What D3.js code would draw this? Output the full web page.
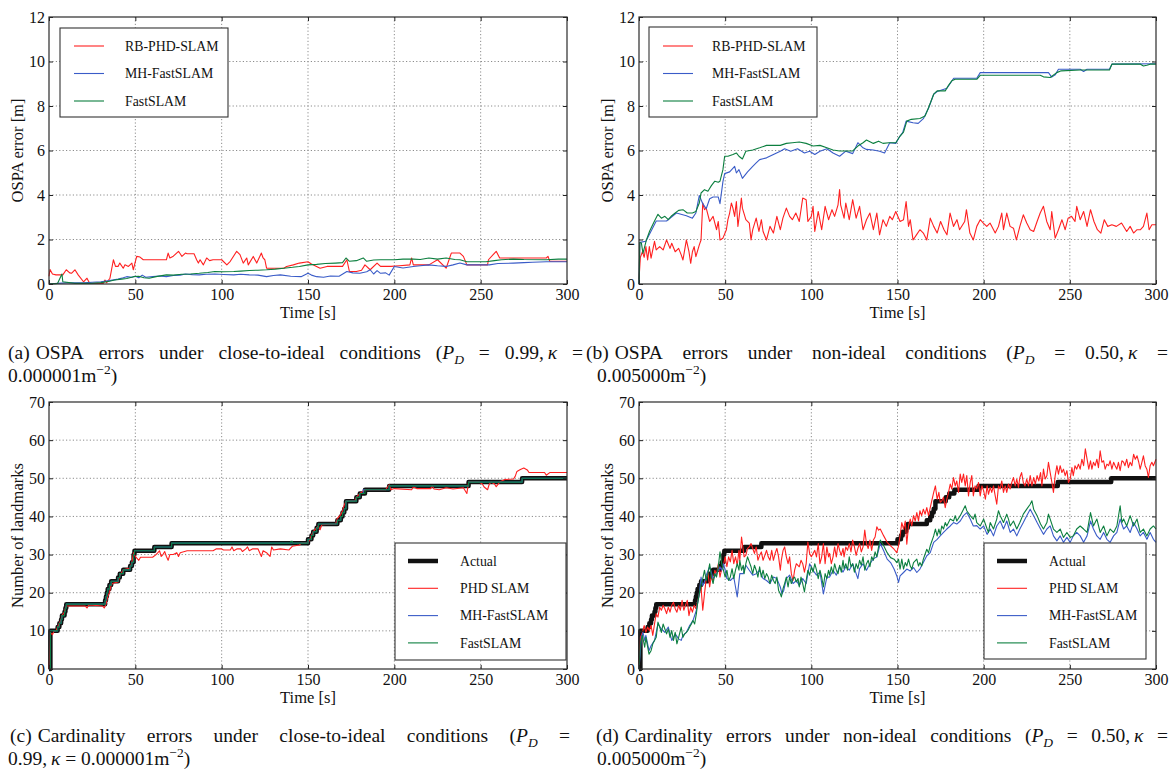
<!DOCTYPE html>
<html>
<head>
<meta charset="utf-8">
<script src="https://cdn.jsdelivr.net/npm/d3@7"></script>
<style>
  body { margin: 0; background: #fff; overflow: hidden; }
  svg { display: block; font-family: 'Liberation Serif', 'DejaVu Serif', serif; }
  .axis line { stroke: #222; }
  .axis-label { font-size: 16.5px; fill: #111; }
  .grid line { stroke: #8c8c8c; stroke-width: 1; stroke-dasharray: 1.2,2.2; }
  .legend text { font-size: 13.8px; fill: #111; }
  .caption { font-size: 19.5px; fill: #111; }
</style>
</head>
<body>
<svg width="1176" height="771"></svg>
<script>
(function (d3) {
  'use strict';

  // ---- ticks / categories ----
  const timeTicks = [0, 50, 100, 150, 200, 250, 300];
  const ospaTicks = [0, 2, 4, 6, 8, 10, 12];
  const countTicks = [0, 10, 20, 30, 40, 50, 60, 70];
  const ospaNames = ['RB-PHD-SLAM', 'MH-FastSLAM', 'FastSLAM'];
  const countNames = ['Actual', 'PHD SLAM', 'MH-FastSLAM', 'FastSLAM'];

  // ---- (a) OSPA, close-to-ideal  [time s, error m] ----
  const phdOspaIdeal = [[0,0.35],[0.6,0.65],[2,0.45],[4,0.41],[8,0.41],[10,0.64],[12,0.5],[13,0.48],[15,0.64],[17,0.4],[20,0.1],[22,0.26],[23.5,0.03],[31.5,0.03],[32.4,0.18],[33.4,0.06],[35.3,0.26],[37.3,1.09],[38.5,0.79],[40,0.79],[41,0.94],[43,0.71],[44,0.86],[46,0.79],[48,0.94],[48.8,0.64],[50.8,1.24],[52.7,1.21],[54.6,1.09],[68,1.09],[69,1.39],[70,1.17],[72,1.25],[75,1.47],[77,1.24],[79,1.39],[80,1.36],[84,1.36],[85.5,1.09],[86.5,0.94],[87.5,1.09],[89.4,0.86],[91.3,1.17],[93,1.05],[95,1.09],[100,1.09],[103,0.86],[105,1.02],[108.7,1.47],[110.6,1.32],[112.5,0.94],[114.5,1.17],[115.4,0.86],[118.3,1.24],[120.3,0.94],[123,1.39],[124,1.17],[125,1.09],[126,0.71],[136,0.71],[137.6,0.79],[141.5,0.86],[145,0.94],[150,1.0],[152,0.9],[157,0.71],[161,0.79],[170,0.79],[172.5,1.09],[174,0.56],[178,0.56],[181,0.62],[183,0.86],[186,0.64],[190,0.94],[192,0.79],[198,0.79],[203,0.82],[209,0.86],[210,1.17],[211,0.86],[220,0.86],[225,1.09],[230,0.71],[233,1.39],[238,1.39],[240,1.24],[242,0.86],[254,0.86],[254.5,1.09],[259,1.47],[261,1.17],[288,1.17],[289,1.24],[290,1.02],[300,1.02]];
  const mhOspaIdeal = [[0,0],[5,0.03],[10,0.05],[20,0.05],[25,0.08],[30,0.1],[35,0.15],[40,0.22],[43,0.28],[45,0.33],[48,0.3],[50,0.35],[52,0.28],[54,0.4],[56,0.3],[60,0.33],[64,0.36],[68,0.33],[72,0.38],[76,0.4],[79,0.45],[83,0.42],[87,0.41],[91,0.44],[96,0.45],[101,0.43],[107,0.41],[111,0.44],[116,0.41],[121,0.4],[126,0.33],[130,0.38],[134,0.41],[140,0.35],[146,0.33],[150,0.48],[152,0.4],[155,0.33],[159,0.3],[163,0.36],[168,0.35],[172.5,0.56],[176,0.5],[180,0.48],[184,0.55],[186,0.64],[188,0.45],[190,0.6],[192,0.48],[195,0.5],[197,0.4],[200,0.79],[205,0.72],[211,0.79],[215,0.82],[220,0.86],[225,0.82],[230,0.79],[234,0.86],[238,0.94],[242,0.86],[249,0.86],[255,0.86],[260,0.92],[269,0.94],[275,0.96],[280,0.98],[288,1.0],[295,1.0],[300,1.0]];
  const fastOspaIdeal = [[0,0],[5,0.03],[7.5,0.45],[8,0.1],[15,0.03],[25,0.03],[30,0.06],[35,0.12],[38,0.18],[42,0.22],[45,0.25],[49,0.33],[52,0.35],[55,0.28],[58,0.26],[62,0.33],[68,0.41],[72,0.4],[77,0.44],[82,0.45],[87,0.48],[92,0.52],[96,0.56],[101,0.55],[107,0.56],[111,0.58],[116,0.61],[121,0.62],[126,0.64],[131,0.67],[136,0.71],[141,0.75],[145,0.79],[150,0.86],[155,0.88],[160,0.92],[166,0.94],[170,0.96],[172,1.17],[174,1.02],[178,1.05],[182,1.17],[184,1.02],[188,1.08],[192,1.09],[200,1.09],[205,1.12],[211,1.12],[215,1.1],[220,1.17],[225,1.12],[230,1.17],[235,1.1],[238,1.09],[242,1.0],[253,1.0],[258,1.05],[262,1.09],[269,1.12],[275,1.1],[288,1.09],[295,1.12],[300,1.12]];

  // ---- (b) OSPA, non-ideal ----
  const phdOspaHard = [[0,0.2],[0.8,1.2],[2,1.45],[3,1.2],[4,1.68],[5,1.08],[6,1.68],[7,1.16],[9,1.92],[10,1.53],[12,1.68],[14,1.53],[16,1.98],[18,1.6],[19,1.83],[21,1.45],[23,1.6],[24.5,1.31],[25.5,1.08],[27.5,1.98],[29,1.45],[30,0.93],[31,1.45],[32,1.68],[33,1.23],[35,1.76],[36,1.98],[37,3.64],[38,3.34],[39,3.41],[41,2.81],[43,3.04],[45,2.44],[46,2.81],[47,1.98],[48.7,2.06],[50.7,2.44],[51.6,2.89],[52.6,3.19],[53.6,3.64],[54.5,3.41],[55.5,3.04],[56.5,3.71],[57.4,2.59],[58.4,3.19],[59.4,3.86],[60,3.41],[62,2.89],[64,2.74],[65,1.98],[66,2.44],[68,2.96],[69.6,2.36],[71,2.89],[72,2.36],[74,1.98],[76,2.59],[78,2.29],[80,3.04],[82,2.44],[83.5,2.96],[85.5,3.41],[87.4,3.04],[89,2.89],[91,3.19],[93,2.81],[95,3.86],[97,3.79],[98,2.81],[100,3.04],[101,3.49],[102,2.36],[104,3.26],[106,2.44],[108,3.49],[110,2.89],[112,3.34],[113.5,3.04],[115.5,3.56],[116.4,4.25],[117,3.56],[119,2.96],[120,3.64],[122,2.89],[124,3.79],[126,2.96],[128,3.49],[130,2.44],[132,2.89],[134,3.19],[136,2.44],[138,3.19],[139.6,2.21],[141.6,2.89],[143.5,2.59],[145.5,3.04],[147,2.89],[149,3.26],[151.5,2.81],[153.5,2.89],[155,3.71],[156.4,2.59],[157.4,2.89],[159,1.98],[161,2.21],[163,2.44],[165,2.29],[167,1.98],[169,2.96],[171,2.59],[173,2.29],[175,2.81],[177,2.44],[178.7,2.21],[180.5,3.19],[182.5,2.59],[184.5,2.89],[186,2.44],[189,2.81],[190,3.34],[192,2.29],[194,1.98],[196,2.59],[198,2.89],[199.8,2.74],[201.8,2.59],[203.7,2.74],[206.7,2.29],[208.6,2.59],[210.5,3.19],[211.5,2.44],[213.4,3.19],[215.3,2.59],[217.3,2.51],[219,1.98],[221,2.59],[223,3.11],[225,2.74],[227,2.44],[229,2.36],[231,2.81],[232.8,3.19],[234.7,3.49],[236.6,2.81],[238.6,2.44],[239.5,3.26],[241.5,2.06],[243.4,2.44],[245.4,2.89],[247.3,2.44],[249,2.96],[251,3.04],[253,2.81],[254,3.49],[256,2.89],[258,3.26],[260,2.59],[262,3.34],[264,2.81],[266,2.44],[268,2.29],[270,2.89],[272,2.59],[274.4,2.66],[277,2.59],[280,2.74],[283,2.36],[285,2.59],[287,2.29],[289,2.44],[291,2.44],[292.7,2.59],[294.7,3.19],[296,2.44],[297.6,2.66],[300,2.66]];
  const mhOspaHard = [[0,0],[0.5,1.87],[4,1.92],[10,2.83],[16,2.83],[21.7,3.19],[27.5,3.07],[31,2.96],[33,3.19],[35,3.98],[37,3.61],[39,3.38],[41,3.83],[43,3.91],[46,3.91],[47,3.61],[48.7,4.6],[49.7,4.96],[52.6,5.04],[55.5,5.29],[56.5,4.99],[58,5.14],[60,4.75],[63,5.04],[66,5.29],[68,5.44],[70,5.59],[74,5.67],[78,5.82],[82,5.97],[84.5,6.08],[88,5.97],[92,6.08],[96,5.89],[99,5.97],[102,5.82],[105,5.97],[109,6.08],[112.6,5.89],[116.4,5.74],[120,5.97],[124,5.86],[127,6.35],[130,6.12],[132,6.05],[136,6.02],[139.6,5.97],[142.5,5.89],[145.5,6.35],[149,6.32],[151,6.6],[153,6.8],[155,7.32],[159,7.25],[162,7.22],[165,7.43],[168,7.9],[171,8.53],[173,8.65],[178.7,8.8],[182.6,9.25],[196,9.25],[198,9.5],[237.6,9.5],[239.5,9.3],[241.5,9.4],[243.4,9.65],[256,9.65],[258,9.55],[260,9.65],[273,9.65],[274.4,9.88],[300,9.9]];
  const fastOspaHard = [[0,0],[0.5,1.87],[1.4,1.84],[2.3,1.38],[4.3,1.98],[6.2,2.38],[9,2.83],[11,3.13],[13,2.96],[15,3.04],[17,2.89],[19,3.07],[21,3.19],[23,3.31],[25.5,3.34],[28,3.19],[31,3.19],[33,3.26],[35,3.64],[36,4.09],[38,4.24],[40,4.17],[42,4.42],[44,4.62],[46,4.57],[47,4.62],[48.7,5.14],[49.7,5.74],[51.6,5.74],[54.5,5.82],[56.5,5.89],[58,5.74],[60,5.62],[62,5.97],[66,6.02],[70,6.12],[74,6.23],[82,6.23],[85.5,6.32],[89,6.35],[93,6.38],[97,6.32],[101,6.2],[105,6.23],[109,6.12],[112.6,6.02],[116.4,5.98],[124,5.98],[127,6.2],[130,6.35],[132,6.47],[136,6.32],[139,6.42],[141.6,6.32],[145,6.35],[149,6.35],[151.5,6.65],[153.5,6.83],[155.4,7.32],[158,7.4],[163,7.44],[166,7.55],[168,7.92],[171,8.53],[173,8.68],[177.7,8.68],[179.6,8.93],[181.5,9.13],[183.5,9.2],[196,9.2],[198,9.38],[232.8,9.38],[234.7,9.31],[238.6,9.28],[242.4,9.5],[245,9.58],[256,9.62],[273,9.62],[274.4,9.88],[291,9.88],[292.7,9.8],[294.7,9.83],[296.6,9.88],[300,9.88]];

  // ---- (c)/(d) true landmark count (step changes) ----
  const actualCount = [[0,0],[0.8,10],[5,11],[6,12],[7,13],[7.5,14],[9,15],[9.5,16],[10,17],[32.5,18],[33,19],[33.5,20],[34,21],[35,22],[36,23],[40,24],[41,25],[43,26],[47,27],[48,28],[49,30],[49.5,31],[61,32],[71,33],[150,34],[152,35],[153,36],[155,37],[156,38],[167,39],[169,40],[170,41],[171,42],[172,44],[178,45],[180,46],[183,47],[197,48],[243,49],[274,50],[300,50]];

  // ---- (c) cardinality, close-to-ideal ----
  const phdCountIdeal = [[0,0],[0.8,9.5],[2,9.0],[3,10],[4,10],[5,11],[6,12],[7,13],[7.5,14],[9,15],[9.5,16],[10,16.5],[21,16.5],[22,16],[23,16.8],[31,16.5],[32,16],[33,17],[34,19],[35,20],[36,22],[37,22.5],[40,22.8],[41,24.5],[43,26],[47,26.5],[48,28],[49,30.5],[50,29.5],[51,29],[52,28.5],[53,29.3],[60,29.3],[62,30],[64,31],[65,29.5],[66,30],[67,30.8],[68,29.5],[69,28.5],[70,30],[72,30],[74,30.5],[75,29.5],[76,30.5],[80,31],[95,31],[97,31.5],[100,31.5],[101,31.2],[105,31.2],[106,32],[107,31],[109,31.5],[111,31.5],[112,30.8],[114,31.5],[115,32],[116,31],[118,31.5],[121,31.5],[123,29.5],[124,31],[126,30.5],[128,29.5],[129,32],[130,31.2],[134,31.5],[139,31.2],[141,32.2],[145,32.5],[146,33],[150,33],[151,34],[152,35],[153,36],[155,37],[156,37.5],[157,36.5],[158,37.8],[166,38],[167,39.5],[169,40.5],[170,41.5],[171,43],[172,44],[177,44],[178,45],[180,46],[183,47],[195,47],[197,48.3],[198,47],[200,47.3],[210,47],[211,47.7],[213,47.3],[221,47.3],[222,48],[223,47.2],[226,47],[230,47.5],[234,47.2],[240,47.5],[242,46],[243,49],[249,49],[251,48.5],[252,47.7],[254,47],[255,48.5],[256,49],[258,48.5],[259,47.8],[261,49],[264,49.7],[269,49.8],[270,50.5],[271,51.8],[273,52.3],[275,52.7],[277,52.2],[278,51.5],[287,51.5],[288,50.8],[290,51.5],[300,51.5]];
  const mhCountIdeal = [[0,0],[0.8,10],[5,11],[6,12],[7,13],[7.5,14],[9,15],[9.5,16],[10,17],[32.5,18],[33,19],[33.5,20],[34,21],[35,22],[36,23],[40,24],[41,25],[43,26],[47,27],[48,28],[49,30],[49.5,31],[61,32],[71,33],[150,34],[152,35],[153,36],[155,37],[156,38],[167,39],[169,40],[170,41],[171,42],[172,44],[178,45],[180,46],[182,47],[197,48],[243,49],[274,50],[300,50]];
  const fastCountIdeal = [[0,0],[0.8,10],[5,11],[6,12],[7,13],[7.5,14],[9,15],[9.5,16],[10,17],[32.5,18],[33,19],[33.5,20],[34,21],[35,22],[36,23],[40,24],[41,25],[43,26],[47,27],[48,28],[49,30],[49.5,31],[61,32],[71,33],[140,33.5],[141,33],[150,34],[152,35],[153,36],[155,37],[156,38],[167,39],[169,40],[170,41],[171,42],[172,44],[178,45],[180,46],[183,47],[197,48],[243,49],[274,50],[300,50]];

  // ---- (d) cardinality, non-ideal ----
  const phdCountHard = [[0,0],[0.8,8.3],[2,9.6],[3,11.4],[4,9.6],[5,11],[6,10.1],[7,11.4],[8,8.8],[9,11.8],[10,14.5],[11,13.6],[12,16.2],[13,15.4],[14,16.7],[15,15.8],[16,14.5],[17,16.2],[18,14.9],[19,16.7],[20,17.5],[21,15.8],[22,14.9],[23,16.7],[24,15.4],[25,18],[26,15.4],[27,16.7],[28,18],[29,14],[30,16.2],[31,14.9],[32,16.7],[33,15.8],[34,17.5],[35,19.7],[36,21.5],[37,15.4],[38,19.7],[39,23.7],[40,25.4],[41,21.5],[42,24.6],[43,22.8],[44,25.9],[45,24.6],[46,27.6],[47,24.1],[48,26.3],[49,27.2],[50,29.4],[51,26.8],[52,29.4],[53,28.1],[54,31.1],[55,27.6],[56,29.4],[57,27.2],[58,31.1],[58.5,28.5],[59.5,34.6],[60.5,31.1],[61,29.4],[62,29.8],[63,31.6],[64,32],[65,32.9],[66,31.6],[67,30.3],[68,32],[69,28.5],[70,29.8],[71,30.7],[72,28.5],[73,29.8],[74,31.1],[75,29.4],[76,28.5],[77,31.1],[78,28.5],[79,30.3],[80,31.6],[81,29.4],[82,25.9],[82.6,28.5],[83.6,31.1],[84.5,32],[85.5,29.4],[86.5,27.6],[87.4,29.4],[88.4,25],[89.4,23.2],[90.3,25.9],[91.3,27.6],[93,26.8],[94,28.5],[95,27.6],[96,25.4],[97,27.6],[98,33.3],[99,30.3],[100,29.4],[102,31.1],[103,29.4],[104,32.9],[105,27.6],[106,29.4],[107,32.9],[108,27.6],[109,32],[110,29.4],[110.6,30.3],[111.6,27.6],[112.6,29.4],[113.5,32],[114.5,29.4],[115.5,32.9],[116.4,31.1],[117.4,29.8],[118.4,31.6],[119,29.4],[120,32],[121,31.1],[122,32.9],[123,30.7],[124,33.8],[125,32],[126,29.8],[127,31.6],[128,32.9],[129,30.7],[130,32],[131,36.4],[132,32.9],[133,31.6],[134,33.8],[135,31.1],[136,33.8],[137,34.6],[138,37.3],[139,36.4],[140,36.7],[142,34.9],[144,33.2],[146,32.3],[148,31.4],[149.6,30.5],[150.6,32.3],[151.5,34.9],[152.5,38.4],[153.5,36.7],[154.5,38.8],[155.4,32.7],[156.4,37.5],[157.4,39.3],[158.3,37.5],[159.3,40.2],[160.3,38.8],[161.2,41],[162.2,38.8],[163,41.5],[164,40.2],[165,41.9],[166,40.6],[167,42.3],[168,40.2],[169,42.3],[171,46.3],[172,48],[173,44.5],[174,46.3],[174.8,43.7],[175.7,44.1],[176.7,45],[177.7,42.3],[178.6,44.5],[179.6,46.3],[180.6,48.5],[181.5,47.2],[182.5,50.2],[183.5,48],[184.4,49.3],[185.4,46.3],[186.4,51.1],[187.3,48.9],[188.3,51.1],[189.3,48],[190.2,50.7],[191.2,45.4],[192.2,48.9],[193.1,50.7],[194,45.4],[195,48],[196,47.2],[197,48.9],[198,45.4],[199,48],[200,46.7],[201,44.5],[202,48],[202.8,45.8],[203.8,47.6],[204.7,46.3],[205.7,48],[206.7,45.4],[207.6,43.2],[208.6,48],[209.6,47.2],[210.5,49.3],[211.5,46.3],[212.5,48],[213.4,46.3],[214.4,48.5],[215.4,47.2],[216.3,48.9],[217.3,50.2],[218.3,48],[219.2,49.8],[220.2,47.6],[221,50.2],[222,51.5],[223,48.9],[224,48],[225,49.8],[226,48],[227,50.7],[228,48],[229,50.2],[230,48.5],[231,50.7],[232,49.3],[233,51.5],[233.8,48],[234.7,52.4],[235.7,49.8],[236.7,50.7],[237.6,54.2],[238.6,51.5],[239.6,48.9],[240.5,46.3],[241.5,50.7],[242.5,53.3],[243.4,51.1],[244.4,53.3],[245.4,51.5],[246.3,52.4],[247.3,50.7],[248.3,52],[249.2,48.9],[250.2,49.8],[251.2,52.8],[252,50.7],[253,53.3],[254,52.4],[255,53.7],[256,52.4],[257,55],[258,53.3],[259,57.7],[260,55],[261,52.4],[262,54.6],[262.8,52.4],[263.7,54.2],[264.7,53.3],[265.7,55],[266.6,52.8],[267.6,57.2],[268.6,54.2],[269.6,54.6],[270.5,52.4],[271.5,53.7],[272.5,53.3],[273.4,54.6],[274.4,52.4],[275.4,54.2],[276.3,53.3],[277.3,52.4],[278.2,54.2],[279.2,52],[280.2,54.6],[281.2,54.2],[282,53.3],[283,55],[284,52.8],[285,54.2],[286,53.3],[287,56.3],[288,55],[289,55.9],[290,54.2],[290.8,52.4],[291.8,54.2],[292.7,55.9],[293.7,53.3],[294.7,52.4],[295.6,50.2],[296.6,53.3],[297.6,54.2],[298.5,53.3],[300,55]];
  const mhCountHard = [[0,0],[1.4,8.3],[2.3,9.6],[3.3,7.5],[4,8.8],[5.8,4.8],[7,6.1],[9,7.5],[11,11.8],[13,10.5],[15,9.6],[17,11],[19,7.5],[21,9.2],[23,7.9],[24.5,7.5],[25.5,8.8],[27.5,9.6],[29.4,11.4],[31.3,12.7],[33.3,15.4],[35,19.7],[36,24.1],[37,21.9],[38,22.8],[39,24.6],[41,26.8],[43,23.7],[45,25],[47,26.8],[48,25.9],[49,27.6],[50,25.9],[51,23.7],[53,23.2],[55,24.1],[56,21.5],[57,18.9],[58.5,25],[60.5,25],[62,27.2],[64,25.9],[66,24.6],[68,25],[70,25.9],[72,23.7],[74,23.2],[76,22.4],[78,24.1],[80,23.7],[82,21.5],[83,19.7],[84,20.6],[85.5,23.7],[87.4,24.6],[89.4,22.4],[91.3,23.2],[93,21.9],[95,23.7],[97,22.4],[99,27.6],[101,25.9],[103,24.6],[105,25.4],[107,19.7],[109,24.1],[110.6,24.1],[112.6,25.9],[114.5,24.6],[116.4,26.8],[118.4,25.4],[120,26.8],[122,25.9],[124,27.6],[126,25],[127,23.7],[128,26.3],[130,27.6],[132,25.9],[134,27.6],[136,28.9],[138,29.4],[140,32.9],[142,31],[144,28.8],[146,27.9],[148,26.2],[149.6,24.4],[150.6,22.7],[151.5,24.4],[153.5,25.3],[155.4,26.2],[157.4,25.7],[159.3,26.6],[161.2,25.3],[163,26.2],[165,27.9],[167,29.7],[169,30.5],[171,33.2],[173,34],[174.8,34.9],[176.7,35.8],[178.6,36.7],[180.6,37.5],[182.5,38.4],[184.4,38],[186.4,38.8],[188.3,40.2],[190.2,41],[192.2,39.3],[194,37.5],[196,37.6],[198,36.7],[200,37.5],[202,35.3],[203.8,36.7],[205.7,34.9],[207.6,37.5],[209.6,38.8],[211.5,36.7],[213.4,38.8],[215.4,35.8],[217.3,36.7],[219.2,34.9],[221,36.7],[223,38.4],[225,40.2],[227,41.9],[229,40.2],[231,38.4],[233,36.7],[234.7,35.3],[236.7,36.7],[238.6,37.5],[240.5,34.9],[242.5,33.6],[244.4,34.9],[246.3,33.2],[248.3,34.5],[250.2,33.2],[252,34.9],[254,35.8],[256,34.9],[258,33.2],[260,34.9],[262,38.8],[263.7,36.7],[265.7,34.9],[267.6,34],[269.6,35.8],[271.5,34],[273.4,33.2],[275.4,34.9],[277.3,35.8],[279.2,39.3],[281.2,36.7],[283,37.5],[285,35.8],[287,38.4],[289,36.7],[290.8,34.9],[292.7,35.8],[294.7,34],[296.6,35.8],[298.5,34],[300,33.2]];
  const fastCountHard = [[0,0],[0.8,6.6],[2,8.8],[3.3,5.7],[4,8.3],[5.8,3.9],[7,4.8],[8,6.6],[10,8.3],[11,12.3],[12,11],[13,9.6],[14,11.8],[16,9.2],[17,10.5],[18,8.3],[19,10.1],[20,7.5],[21,9.6],[22,6.6],[23,8.3],[24.5,11],[25.5,8.3],[26.5,9.2],[27.5,9.6],[28.4,10.1],[29.4,11],[30.4,11.8],[31.3,12.7],[32.3,11.8],[33.3,14.5],[34,17.1],[35,19.7],[36,21.9],[37,23.7],[38,25.9],[39,23.2],[40,25],[41,27.6],[42,24.1],[43,22.4],[44,25],[45,24.1],[46,26.8],[47,30.7],[48,27.6],[49,25.9],[50,24.1],[51,25.9],[52,23.2],[53,24.1],[54,26.3],[55,23.7],[56,25.9],[57,27.6],[58,25.9],[58.5,28.5],[59.5,25.9],[60.5,27.2],[61,25],[62,27.6],[63,29.4],[64,28.1],[65,26.8],[66,25],[67,27.2],[68,25.9],[69,24.1],[70,26.8],[71,24.1],[72,25.9],[73,23.7],[74,25],[75,24.1],[76,22.4],[77,24.6],[78,23.2],[79,22.4],[80,24.1],[81,20.6],[82,19.7],[82.6,18.9],[83.6,21.1],[84.5,22.4],[85.5,24.1],[86.5,21.5],[87.4,24.1],[88.4,22.4],[89.4,23.7],[90.3,24.1],[91.3,22.8],[92.3,23.7],[93,21.5],[94,24.1],[95,22.4],[96,20.2],[97,23.2],[98,25.9],[99,24.6],[100,26.8],[101,25.4],[102,27.6],[103,25.9],[104,23.7],[105,25.9],[106,24.1],[107,21.5],[108,25],[109,23.7],[110,25.9],[110.6,24.6],[111.6,26.8],[112.6,25],[113.5,27.6],[114.5,25.9],[115.5,25],[116.4,27.2],[117.4,25.4],[118.4,28.5],[119,26.3],[120,27.6],[121,25.9],[122,29.4],[123,26.8],[124,27.6],[125,25.4],[126,27.6],[127,26.3],[128,28.5],[129,27.2],[130,29.4],[131,25.9],[132,27.6],[133,28.5],[134,26.8],[135,29.4],[136,28.5],[137,30.7],[138,29.4],[139,32],[140,33.8],[142,32.3],[144,30.5],[146,29.2],[148,28.8],[149.6,27.9],[150.6,28.8],[151.5,26.2],[152.5,28.8],[153.5,26.2],[154.5,27.9],[155.4,27],[156.4,28.8],[157.4,27],[158.3,26.2],[159.3,27.9],[161.2,28.8],[162.2,27],[163,27.9],[164,27],[165,28.8],[167,31.4],[168,30.5],[169,32.3],[171,34.9],[172,36.7],[173,34.9],[174,36.7],[174.8,35.3],[175.7,37.5],[176.7,36.7],[177.7,38.4],[178.6,37.5],[180.6,39.3],[182.5,38.8],[183.5,40.2],[184.4,38.8],[186.4,40.2],[188.3,41.9],[189.3,42.8],[190.2,41.5],[192.2,40.2],[194,39.3],[195,40.6],[196,38.4],[198,37.5],[200,39.3],[202,36.7],[202.8,35.8],[203.8,38.4],[205.7,36.7],[207.6,39.3],[208.6,41.5],[209.6,40.2],[211.5,38.4],[213.4,40.6],[214.4,39.3],[215.4,37.5],[217.3,38.8],[219.2,36.7],[221,38.4],[223,40.6],[225,41.9],[227,43.2],[228,44.1],[229,41.9],[231,40.2],[233,38],[234.7,36.7],[236.7,38.4],[237.6,40.6],[238.6,39.3],[240.5,36.7],[242.5,35.8],[244.4,36.7],[246.3,34.5],[248.3,35.8],[250.2,34.5],[252,34.9],[254,36.7],[256,37.5],[258,36.7],[260,35.8],[262,41],[263.7,37.5],[265.7,39.3],[267.6,35.8],[269.6,37.5],[271.5,34.9],[273.4,36.7],[275.4,35.8],[277.3,37.5],[279.2,42.8],[280.2,38.4],[281.2,39.3],[283,37.5],[285,40.2],[287,37.5],[289,39.3],[290.8,35.8],[292.7,36.7],[294.7,34.9],[296.6,36.7],[298.5,37.5],[300,36.7]];

  // ---- captions (rich text: <i>, <sub>, <sup>) ----
  const captionA = ['(a) OSPA errors under close-to-ideal conditions (<i>P</i><sub>D</sub> = 0.99,\u2009<i>κ</i> =', '0.000001m<sup>−2</sup>)'];
  const captionB = ['(b) OSPA errors under non-ideal conditions (<i>P</i><sub>D</sub> = 0.50,\u2009<i>κ</i> =', '0.005000m<sup>−2</sup>)'];
  const captionC = ['(c) Cardinality errors under close-to-ideal conditions (<i>P</i><sub>D</sub> =', '0.99,\u2009<i>κ</i> = 0.000001m<sup>−2</sup>)'];
  const captionD = ['(d) Cardinality errors under non-ideal conditions (<i>P</i><sub>D</sub> = 0.50,\u2009<i>κ</i> =', '0.005000m<sup>−2</sup>)'];

  const red = '#ff2020';
  const blue = '#3a5cc8';
  const green = '#0c7f3f';
  const black = '#111';

  const svg = d3.select('svg');

  const ospaSeries = (phd, mh, fast) => [
    { name: ospaNames[0], values: phd, color: red, width: 1.1 },
    { name: ospaNames[1], values: mh, color: blue, width: 1.1 },
    { name: ospaNames[2], values: fast, color: green, width: 1.1 }
  ];
  const countSeries = (phd, mh, fast, mhStep, fastStep) => [
    { name: countNames[0], values: actualCount, color: black, width: 4.5, step: true },
    { name: countNames[1], values: phd, color: red, width: 1.1 },
    { name: countNames[2], values: mh, color: blue, width: 1.1, step: mhStep },
    { name: countNames[3], values: fast, color: green, width: 1.1, step: fastStep }
  ];

  const panels = [
    { left: 49, right: 567, top: 17, bottom: 284, yMax: 12, yTicks: ospaTicks, yLabel: 'OSPA error [m]',
      series: ospaSeries(phdOspaIdeal, mhOspaIdeal, fastOspaIdeal),
      legend: { x: 60, y: 28, w: 168, h: 89, lineX: 74, textX: 125, rowY: 46, rowGap: 27.5 },
      caption: captionA, capX0: 8, capX1: 583, capX2: 8, capY: 359 },
    { left: 639, right: 1156, top: 17, bottom: 284, yMax: 12, yTicks: ospaTicks, yLabel: 'OSPA error [m]',
      series: ospaSeries(phdOspaHard, mhOspaHard, fastOspaHard),
      legend: { x: 649, y: 27, w: 168, h: 90, lineX: 663, textX: 712, rowY: 46, rowGap: 27.5 },
      caption: captionB, capX0: 586, capX1: 1168, capX2: 597, capY: 359 },
    { left: 49, right: 567, top: 402, bottom: 669, yMax: 70, yTicks: countTicks, yLabel: 'Number of landmarks',
      series: countSeries(phdCountIdeal, mhCountIdeal, fastCountIdeal, true, true),
      legend: { x: 395, y: 543, w: 171, h: 117, lineX: 408, textX: 460, rowY: 561, rowGap: 27.3 },
      caption: captionC, capX0: 10, capX1: 570, capX2: 8, capY: 742 },
    { left: 639, right: 1156, top: 402, bottom: 669, yMax: 70, yTicks: countTicks, yLabel: 'Number of landmarks',
      series: countSeries(phdCountHard, mhCountHard, fastCountHard, false, false),
      legend: { x: 984, y: 543, w: 162, h: 116, lineX: 997, textX: 1049, rowY: 561, rowGap: 27.3 },
      caption: captionD, capX0: 596, capX1: 1168, capX2: 597, capY: 742 }
  ];

  const smallSize = '13.5px';

  const parseRich = s => {
    const parts = [];
    const re = /<(i|sub|sup)>(.*?)<\/\1>|([^<]+)/g;
    let m;
    while ((m = re.exec(s))) {
      if (m[3] !== undefined) parts.push({ text: m[3], kind: 'n' });
      else parts.push({ text: m[2], kind: m[1] });
    }
    return parts;
  };

  // draws one word of a caption and returns its width
  const drawRich = (parent, str, x, y) => {
    const text = parent.append('text').attr('class', 'caption').attr('x', x).attr('y', y);
    let shift = 0;
    parseRich(str).forEach(part => {
      const target = part.kind === 'sub' ? 4.5 : part.kind === 'sup' ? -8 : 0;
      const ts = text.append('tspan').text(part.text).attr('dy', target - shift);
      shift = target;
      if (part.kind === 'i' || part.kind === 'sub') ts.style('font-style', 'italic');
      if (part.kind === 'sub' || part.kind === 'sup') ts.style('font-size', smallSize);
    });
    return text;
  };

  const drawCaption = p => {
    const cg = svg.append('g');
    // first line is justified; the gap after the label stays fixed
    const words = p.caption[0].split(' ');
    const probes = words.map(w => drawRich(cg, w, 0, -100));
    const widths = probes.map(t => t.node().getComputedTextLength());
    probes.forEach(t => t.remove());
    const labelGap = 6;
    const gap = (p.capX1 - p.capX0 - d3.sum(widths) - labelGap) / (words.length - 2);
    let x = p.capX0;
    words.forEach((w, i) => {
      drawRich(cg, w, x, p.capY);
      x += widths[i] + (i === 0 ? labelGap : gap);
    });
    drawRich(cg, p.caption[1].replace(/ /g, '\u00a0'), p.capX2, p.capY + 23);
  };

  const render = p => {
    const innerWidth = p.right - p.left;
    const innerHeight = p.bottom - p.top;

    const xScale = d3.scaleLinear().domain([0, 300]).range([0, innerWidth]);
    const yScale = d3.scaleLinear().domain([0, p.yMax]).range([innerHeight, 0]);

    const g = svg.append('g').attr('transform', `translate(${p.left},${p.top})`);

    g.append('g').attr('class', 'grid')
      .selectAll('line').data(timeTicks.slice(1, -1)).join('line')
        .attr('x1', d => xScale(d)).attr('x2', d => xScale(d))
        .attr('y1', 0).attr('y2', innerHeight);
    g.append('g').attr('class', 'grid')
      .selectAll('line').data(p.yTicks.slice(1, -1)).join('line')
        .attr('y1', d => yScale(d)).attr('y2', d => yScale(d))
        .attr('x1', 0).attr('x2', innerWidth);

    p.series.forEach(s => {
      const lineGenerator = d3.line()
        .curve(s.step ? d3.curveStepAfter : d3.curveLinear)
        .x(d => xScale(d[0]))
        .y(d => yScale(d[1]));
      g.append('path')
        .attr('d', lineGenerator(s.values))
        .attr('fill', 'none')
        .attr('stroke', s.color)
        .attr('stroke-width', s.width)
        .attr('stroke-linejoin', 'round');
    });

    // inward ticks on all four sides, labels bottom/left
    const xAxisG = g.append('g').attr('class', 'axis')
      .attr('transform', `translate(0,${innerHeight})`)
      .call(d3.axisBottom(xScale).tickValues(timeTicks).tickSizeInner(-4).tickSizeOuter(0).tickPadding(5));
    xAxisG.select('.domain').remove();
    g.append('g').attr('class', 'axis')
      .call(d3.axisTop(xScale).tickValues(timeTicks).tickSizeInner(-4).tickSizeOuter(0).tickFormat(''))
      .select('.domain').remove();
    const yAxisG = g.append('g').attr('class', 'axis')
      .call(d3.axisLeft(yScale).tickValues(p.yTicks).tickSizeInner(-4).tickSizeOuter(0).tickPadding(4));
    yAxisG.select('.domain').remove();
    g.append('g').attr('class', 'axis')
      .attr('transform', `translate(${innerWidth},0)`)
      .call(d3.axisRight(yScale).tickValues(p.yTicks).tickSizeInner(-4).tickSizeOuter(0).tickFormat(''))
      .select('.domain').remove();
    g.selectAll('.axis')
      .attr('font-family', "'Liberation Serif', serif")
      .attr('font-size', 16);
    g.selectAll('.axis text').attr('fill', '#111');

    g.append('rect')
      .attr('width', innerWidth).attr('height', innerHeight)
      .attr('fill', 'none').attr('stroke', '#2a2a2a').attr('stroke-width', 1.2);

    g.append('text')
      .attr('class', 'axis-label')
      .attr('x', innerWidth / 2)
      .attr('y', innerHeight + 34)
      .style('text-anchor', 'middle')
      .text('Time [s]');

    g.append('text')
      .attr('class', 'axis-label')
      .attr('transform', `translate(-26,${innerHeight / 2}) rotate(-90)`)
      .style('text-anchor', 'middle')
      .text(p.yLabel);

    const lg = p.legend;
    const legendG = svg.append('g').attr('class', 'legend');
    legendG.append('rect')
      .attr('x', lg.x).attr('y', lg.y).attr('width', lg.w).attr('height', lg.h)
      .attr('fill', '#fff').attr('stroke', '#333').attr('stroke-width', 1.1);
    p.series.forEach((s, i) => {
      const y = lg.rowY + i * lg.rowGap;
      legendG.append('line')
        .attr('x1', lg.lineX).attr('x2', lg.lineX + 30)
        .attr('y1', y).attr('y2', y)
        .attr('stroke', s.color).attr('stroke-width', s.width);
      legendG.append('text')
        .attr('x', lg.textX).attr('y', y).attr('dy', '0.35em')
        .text(s.name);
    });

    drawCaption(p);
  };

  panels.forEach(render);

}(d3));
</script>
</body>
</html>
